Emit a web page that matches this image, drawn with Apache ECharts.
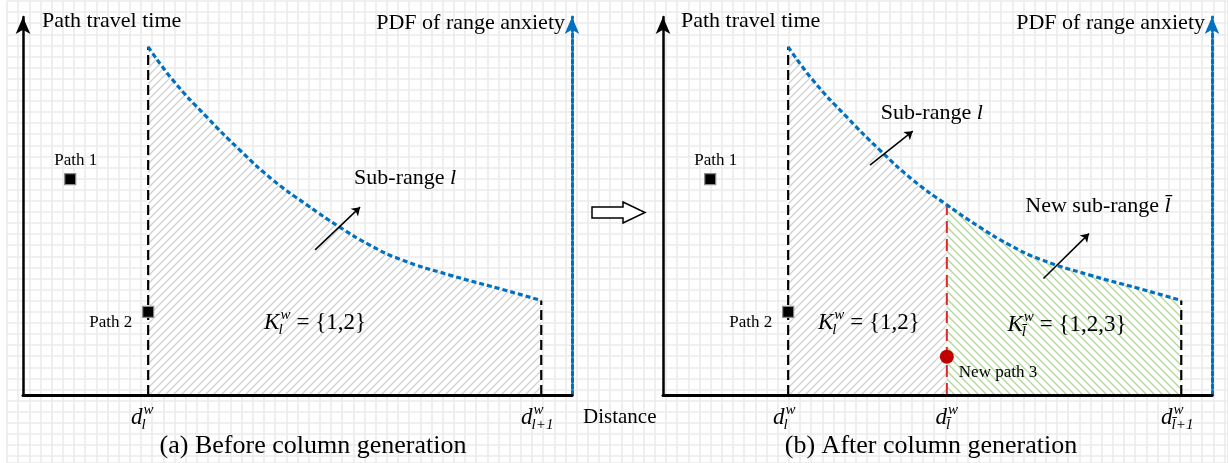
<!DOCTYPE html>
<html>
<head>
<meta charset="utf-8">
<script src="https://cdn.jsdelivr.net/npm/echarts@6/dist/echarts.min.js"></script>
<style>
html, body { margin: 0; padding: 0; background: #fff; }
#content { width: 1228px; height: 463px; }
</style>
</head>
<body>
<div id="content"></div>
<script>
// 区间内的 PDF 曲线（两幅图共用，横纵轴都取 0-100）
var curveX = [22.8, 27.3, 33.5, 39.5, 45.5, 51.7, 57.7, 63.0, 68.7, 77.8, 86.9, 94.4];
var curveY = [92.1, 83.3, 73.5, 64.8, 56.9, 50.3, 44.4, 39.8, 35.9, 31.7, 28.1, 25.0];
var splitX = 51.7; // 新路径 3 切分出的位置

// 路径点
var path1 = [8.6, 57.1];
var path2 = [22.8, 22.0];
var path3 = [51.7, 10.1];

// 小箭头（起点、终点）
var arrowA = [[53.2, 38.4], [61.4, 49.7]];
var arrowB1 = [[37.7, 60.8], [45.5, 69.8]];
var arrowB2 = [[69.3, 30.8], [77.6, 42.7]];

// 集合标注的位置和内容
var kPosA = [53.2, 19.0];
var kPosB1 = [37.5, 19.0];
var kPosB2 = [73.6, 18.5];
var kSetA = '= {1,2}';
var kSetB = '= {1,2,3}';

// 文字
var yName = 'Path travel time';
var pdfName = 'PDF of range anxiety';
var xName = 'Distance';
var captions = ['(a) Before column generation', '(b) After column generation'];

var serif = '"Liberation Serif", "Times New Roman", serif';
var lbar = 'l\u0304';

// 量文字宽度
var mctx = document.createElement('canvas').getContext('2d');
function tw(text, size, italic) {
    mctx.font = (italic ? 'italic ' : '') + size + 'px ' + serif;
    return mctx.measureText(text).width;
}

// 斜线填充
function hatch(color, dir) {
    var c = document.createElement('canvas');
    c.width = 8;
    c.height = 8;
    var g = c.getContext('2d');
    g.fillStyle = '#fff';
    g.fillRect(0, 0, 8, 8);
    g.strokeStyle = color;
    g.lineWidth = 1.3;
    g.beginPath();
    if (dir > 0) {
        g.moveTo(0, 8); g.lineTo(8, 0);
        g.moveTo(-1, 1); g.lineTo(1, -1);
        g.moveTo(7, 9); g.lineTo(9, 7);
    } else {
        g.moveTo(0, 0); g.lineTo(8, 8);
        g.moveTo(-1, 7); g.lineTo(1, 9);
        g.moveTo(7, -1); g.lineTo(9, 1);
    }
    g.stroke();
    return { image: c, repeat: 'repeat' };
}
var grayHatch = hatch('#d2d2d2', 1);
var greenHatch = hatch('#b4d69b', -1);

// 一条文字
function txt(pos, text, size, opt) {
    opt = opt || {};
    return {
        value: pos,
        label: {
            show: true,
            formatter: text,
            fontSize: size,
            fontFamily: serif,
            fontStyle: opt.italic ? 'italic' : 'normal',
            align: opt.align || 'center',
            verticalAlign: 'middle',
            offset: opt.offset || [0, 0],
            color: '#000',
            opacity: 1,
            rich: opt.rich || {}
        }
    };
}

// 数学符号 base_sub^sup rest
function mathItems(pos, base, sup, sub, rest, size, center, dx, dy) {
    var s = Math.round(size * 0.64);
    var bw = tw(base, size, true);
    var sw = Math.max(tw(sup, s, true), tw(sub, s, true));
    var total = bw + 1 + sw + (rest ? 6 + tw(rest, size, false) : 0);
    var x0 = (center ? -total / 2 : 0) + dx;
    var items = [
        txt(pos, base, size, { italic: true, align: 'left', offset: [x0, dy] }),
        txt(pos, sup, s, { italic: true, align: 'left', offset: [x0 + bw + 1, dy - size * 0.34] }),
        txt(pos, sub, s, { italic: true, align: 'left', offset: [x0 + bw - 1, dy + size * 0.3] })
    ];
    if (rest) {
        items.push(txt(pos, rest, size, { align: 'left', offset: [x0 + bw + 1 + sw + 6, dy] }));
    }
    return items;
}

var dL = curveX[0];
var dL1 = curveX[curveX.length - 1];

function pairs(xs, ys, from, to) {
    var out = [];
    for (var i = 0; i < xs.length; i++) {
        if (xs[i] >= from && xs[i] <= to) out.push([xs[i], ys[i]]);
    }
    return out;
}
function curveAt(x) {
    return curveY[curveX.indexOf(x)];
}

function panel(xi, yi, after) {
    var list = [];
    var base = { xAxisIndex: xi, yAxisIndex: yi };
    function add(s) { list.push(Object.assign({}, base, s)); }

    // 阴影区域
    if (!after) {
        add({ type: 'line', smooth: true, symbol: 'none', silent: true, z: 1,
            lineStyle: { width: 0 }, areaStyle: { color: grayHatch, opacity: 1 },
            data: pairs(curveX, curveY, dL, dL1) });
    } else {
        add({ type: 'line', smooth: true, symbol: 'none', silent: true, z: 1,
            lineStyle: { width: 0 }, areaStyle: { color: grayHatch, opacity: 1 },
            data: pairs(curveX, curveY, dL, splitX) });
        add({ type: 'line', smooth: true, symbol: 'none', silent: true, z: 1,
            lineStyle: { width: 0 }, areaStyle: { color: greenHatch, opacity: 1 },
            data: pairs(curveX, curveY, splitX, dL1) });
    }
    // 竖虚线
    add({ type: 'line', symbol: 'none', silent: true, z: 2,
        lineStyle: { color: '#000', width: 2.2, type: [10, 5] },
        data: [[dL, 0], [dL, curveY[0]]] });
    add({ type: 'line', symbol: 'none', silent: true, z: 2,
        lineStyle: { color: '#000', width: 2.2, type: [10, 5] },
        data: [[dL1, 0], [dL1, curveY[curveY.length - 1]]] });
    if (after) {
        add({ type: 'line', symbol: 'none', silent: true, z: 2,
            lineStyle: { color: '#e3242b', width: 2, type: [12, 6] },
            data: [[splitX, 0], [splitX, curveAt(splitX)]] });
    }
    // PDF 曲线
    add({ type: 'line', smooth: true, symbol: 'none', silent: true, z: 3,
        lineStyle: { color: '#0070c0', width: 3.2, type: [5, 3] },
        data: pairs(curveX, curveY, dL, dL1) });
    // 路径
    add({ type: 'scatter', symbol: 'rect', symbolSize: 11, z: 4, clip: false, silent: true,
        itemStyle: { color: '#000', borderColor: '#8a8a8a', borderWidth: 1.2, opacity: 1 },
        data: [path1, path2] });
    if (after) {
        add({ type: 'scatter', symbol: 'circle', symbolSize: 14, z: 4, clip: false, silent: true,
            itemStyle: { color: '#c00000', opacity: 1 }, data: [path3] });
    }
    // 箭头
    add({ type: 'lines', coordinateSystem: 'cartesian2d', z: 4, silent: true,
        symbol: ['none', 'arrow'], symbolSize: 8,
        lineStyle: { color: '#000', width: 1.5, opacity: 1, curveness: 0 },
        data: after ? [{ coords: arrowB1 }, { coords: arrowB2 }] : [{ coords: arrowA }] });

    // 文字
    var notes = [];
    notes.push(txt(path1, 'Path 1', 17, { offset: [5.5, -19] }));
    notes.push(txt(path2, 'Path 2', 17, { offset: [-37.5, 11] }));
    var richI = { i: { fontStyle: 'italic', fontSize: 22, fontFamily: serif, color: '#000' } };
    if (!after) {
        notes.push(txt(arrowA[1], 'Sub-range {i|l}', 22, { offset: [45, -29], rich: richI }));
        notes = notes.concat(mathItems(kPosA, 'K', 'w', 'l', kSetA, 23, true, 0, 0));
        notes = notes.concat(mathItems([dL, 0], 'd', 'w', 'l', '', 23, true, -6, 23));
        notes = notes.concat(mathItems([dL1, 0], 'd', 'w', 'l+1', '', 23, true, -3, 23));
    } else {
        notes.push(txt(arrowB1[1], 'Sub-range {i|l}', 22, { offset: [19, -18], rich: richI }));
        notes.push(txt(arrowB2[1], 'New sub-range {i|' + lbar + '}', 22, { offset: [9, -27], rich: richI }));
        notes.push(txt(path3, 'New path 3', 17, { align: 'left', offset: [12, 16] }));
        notes = notes.concat(mathItems(kPosB1, 'K', 'w', 'l', kSetA, 23, true, 0, 0));
        notes = notes.concat(mathItems(kPosB2, 'K', 'w', lbar, kSetB, 23, true, 0, 0));
        notes = notes.concat(mathItems([dL, 0], 'd', 'w', 'l', '', 23, true, -4, 23));
        notes = notes.concat(mathItems([splitX, 0], 'd', 'w', lbar, '', 23, true, 0, 23));
        notes = notes.concat(mathItems([dL1, 0], 'd', 'w', lbar + '+1', '', 23, true, -3, 23));
    }
    add({ type: 'scatter', symbolSize: 0, z: 6, silent: true, clip: false,
        itemStyle: { opacity: 1 },
        label: { show: true, position: 'inside' }, data: notes });
    return list;
}

function mainX(gi) {
    return {
        gridIndex: gi, type: 'value', min: 0, max: 100, z: 5,
        axisLine: { show: true, onZero: false, lineStyle: { color: '#000', width: 3 } },
        axisTick: { show: false }, axisLabel: { show: false }, splitLine: { show: false }
    };
}
function mainY(gi) {
    return {
        gridIndex: gi, type: 'value', min: 0, max: 100, position: 'left', z: 5,
        axisLine: { show: true, onZero: false, symbol: ['none', 'arrow'], symbolSize: [11, 17],
            lineStyle: { color: '#000', width: 2.5 } },
        axisTick: { show: false }, axisLabel: { show: false }, splitLine: { show: false }
    };
}
function pdfY(gi) {
    return {
        gridIndex: gi, type: 'value', min: 0, max: 100, position: 'right', z: 5,
        axisLine: { show: true, onZero: false, symbol: ['none', 'arrow'], symbolSize: [11, 17],
            lineStyle: { color: '#0070c0', width: 3, type: [4, 2.5] } },
        axisTick: { show: false }, axisLabel: { show: false }, splitLine: { show: false }
    };
}

function label(x, y, text, size, align) {
    return {
        type: 'text', x: x, y: y, z: 10,
        style: { text: text, font: size + 'px ' + serif, fill: '#000',
            align: align, verticalAlign: 'middle', textAlign: align, textVerticalAlign: 'middle' }
    };
}

var myChart = echarts.init(document.getElementById('content'));
myChart.setOption({
    animation: false,
    backgroundColor: '#fff',
    grid: [
        { left: 23, top: 17, width: 549, height: 378 },
        { left: 663, top: 17, width: 549, height: 378 },
        { left: 7, top: 1, right: 0, bottom: 0 } // 背景方格
    ],
    xAxis: [
        mainX(0), mainX(1),
        { gridIndex: 2, type: 'value', min: 0, max: 1221, interval: 11.17, z: 0,
            axisLine: { show: false }, axisTick: { show: false }, axisLabel: { show: false },
            splitLine: { show: true, lineStyle: { color: '#ebebeb', width: 1.6 } } }
    ],
    yAxis: [
        mainY(0), pdfY(0), mainY(1), pdfY(1),
        { gridIndex: 2, type: 'value', inverse: true, min: 0, max: 462, interval: 11.1, z: 0,
            axisLine: { show: false }, axisTick: { show: false }, axisLabel: { show: false },
            splitLine: { show: true, lineStyle: { color: '#ebebeb', width: 1.6 } } }
    ],
    series: panel(0, 0, false).concat(panel(1, 2, true)),
    graphic: [
        label(42, 21, yName, 22, 'left'),
        label(681, 21, yName, 22, 'left'),
        label(565, 23, pdfName, 22, 'right'),
        label(1205, 23, pdfName, 22, 'right'),
        label(583, 417, xName, 21, 'left'),
        label(313, 446, captions[0], 26, 'center'),
        label(931, 446, captions[1], 26, 'center'),
        {
            type: 'polygon', z: 10,
            shape: { points: [[592, 207], [623, 207], [623, 202], [645, 212.5], [623, 223], [623, 218], [592, 218]] },
            style: { fill: '#fff', stroke: '#000', lineWidth: 1.5 }
        }
    ]
});
</script>
</body>
</html>
